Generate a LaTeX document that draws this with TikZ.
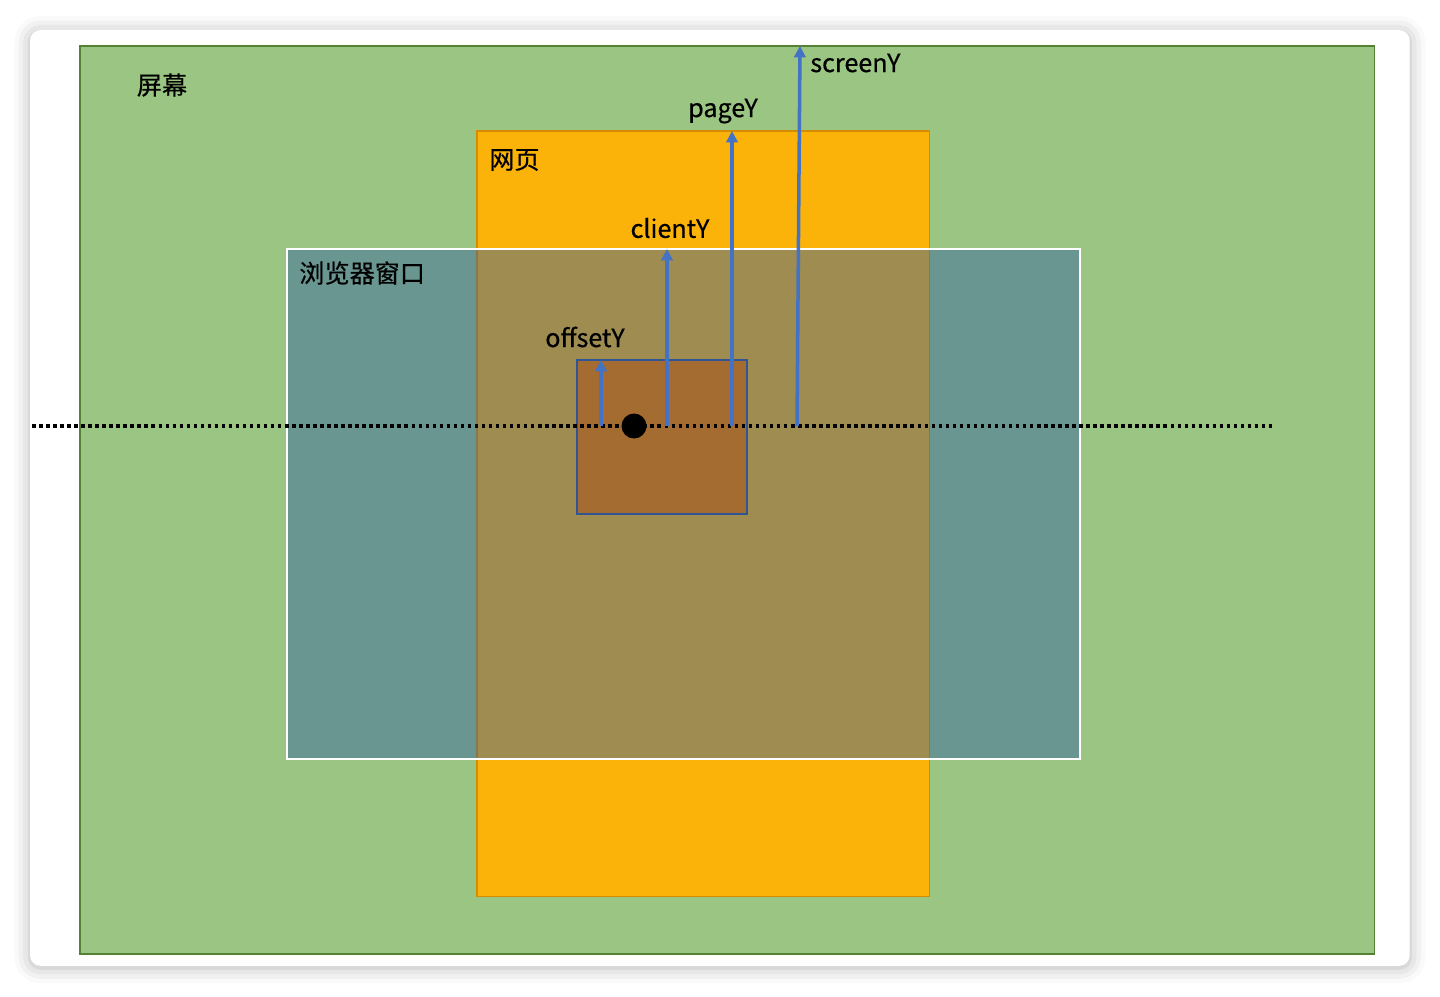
\documentclass[tikz,border=0pt]{standalone}
\usepackage{fontspec}
\setmainfont[FakeBold=0.5]{Noto Sans CJK SC}
\usetikzlibrary{arrows.meta,shadows.blur}
\definecolor{screengreen}{RGB}{155,197,130}
\definecolor{screenedge}{RGB}{84,130,53}
\definecolor{pageorange}{RGB}{251,179,10}
\definecolor{pageedge}{RGB}{214,140,0}
\definecolor{winblue}{RGB}{50,95,165}
\definecolor{elembrown}{RGB}{164,108,48}
\definecolor{elemedge}{RGB}{47,85,151}
\definecolor{ptrblue}{RGB}{68,114,196}
\begin{document}
\begin{tikzpicture}[
  x=0.02cm, y=-0.02cm,
  font=\fontsize{14.3}{17}\selectfont,
  box/.style={shape=rectangle,anchor=north west,inner sep=0pt,outer sep=0pt},
  card/.style={box,fill=white,rounded corners=6pt,
    blur shadow={shadow xshift=0pt,shadow yshift=-1pt,shadow blur radius=9pt,shadow opacity=30}},
  screenbox/.style={box,fill=screengreen,draw=screenedge,line width=0.8pt},
  pagebox/.style={box,fill=pageorange,draw=pageedge,line width=0.6pt},
  winbox/.style={box,fill=winblue,fill opacity=0.46,draw=white,draw opacity=1,line width=1.3pt},
  elembox/.style={box,fill=elembrown,draw=elemedge,line width=0.8pt},
  ptr/.style={draw=ptrblue,line width=2pt,-{Triangle[width=6.5pt,length=6.5pt]}},
  label/.style={inner sep=0pt,text=black}
]
  \useasboundingbox (0,0) rectangle (1440,997);
  \node[card] (card) at (30,30) [minimum width=27.6cm,minimum height=18.72cm] {};
  \node[screenbox] (screen) at (80,46) [minimum width=25.9cm,minimum height=18.16cm] {};
  \node[pagebox] (page) at (477,131) [minimum width=9.06cm,minimum height=15.32cm] {};
  \node[winbox] (win) at (287,249) [minimum width=15.86cm,minimum height=10.2cm] {};
  \node[elembox] (elem) at (577,360) [minimum width=3.4cm,minimum height=3.08cm] {};

  % line through the mouse point
  \coordinate (lineL) at (32,426);
  \coordinate (lineR) at (1272,426);
  \draw[line width=2pt,dash pattern=on 2pt off 2pt] (lineL) -- (lineR);

  \coordinate (offsetS) at (601,426);
  \coordinate (clientS) at (667,426);
  \coordinate (pageS)   at (732,426);
  \coordinate (screenS) at (797,426);
  \draw[ptr] (offsetS) -- (offsetS |- elem.north);
  \draw[ptr] (clientS) -- (clientS |- win.north);
  \draw[ptr] (pageS) -- (pageS |- page.north);
  \draw[ptr] (screenS) -- ([xshift=0.06cm]screenS |- screen.north);

  \node[circle,fill=black,inner sep=0pt,minimum size=0.5cm] (mouse) at (634,426) {};

  \node[label] (screenL) at (162,85) {屏幕};
  \node[label,anchor=west] (pageL) at (489,160) {网页};
  \node[label,anchor=west] (winL) at (299,273) {浏览器窗口};
  \node[label] (offsetL) at (585,337) {offsetY};
  \node[label] (clientL) at (670,228) {clientY};
  \node[label] (pageYL) at (723,111) {pageY};
  \node[label,anchor=west] (screenYL) at (810,63) {screenY};
\end{tikzpicture}
\end{document}
